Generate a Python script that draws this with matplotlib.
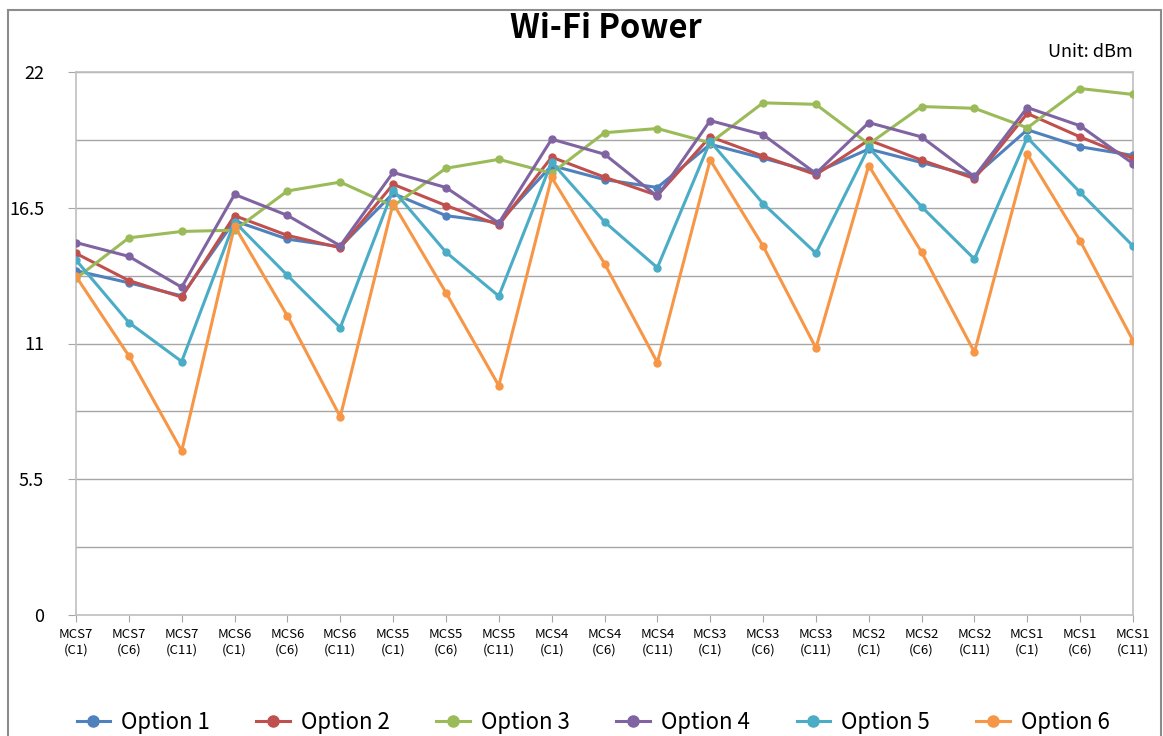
import numpy as np
import matplotlib
matplotlib.use("Agg")
import matplotlib.pyplot as plt
from matplotlib.patches import Rectangle

plt.rcParams['font.family'] = ['Noto Sans CJK KR', 'DejaVu Sans']

categories = ["MCS7\n(C1)", "MCS7\n(C6)", "MCS7\n(C11)",
              "MCS6\n(C1)", "MCS6\n(C6)", "MCS6\n(C11)",
              "MCS5\n(C1)", "MCS5\n(C6)", "MCS5\n(C11)",
              "MCS4\n(C1)", "MCS4\n(C6)", "MCS4\n(C11)",
              "MCS3\n(C1)", "MCS3\n(C6)", "MCS3\n(C11)",
              "MCS2\n(C1)", "MCS2\n(C6)", "MCS2\n(C11)",
              "MCS1\n(C1)", "MCS1\n(C6)", "MCS1\n(C11)"]

option1 = [13.95, 13.46, 12.93, 15.97, 15.23, 14.92, 17.08, 16.18, 15.90,
           18.21, 17.64, 17.32, 19.07, 18.51, 17.93, 18.88, 18.33, 17.78,
           19.66, 18.97, 18.62]
option2 = [14.65, 13.55, 12.88, 16.18, 15.38, 14.88, 17.45, 16.59, 15.80,
           18.55, 17.74, 17.00, 19.38, 18.59, 17.84, 19.24, 18.43, 17.68,
           20.32, 19.37, 18.50]
option3 = [13.64, 15.28, 15.54, 15.59, 17.18, 17.54, 16.57, 18.10, 18.46,
           17.90, 19.54, 19.71, 19.13, 20.75, 20.69, 19.08, 20.60, 20.53,
           19.74, 21.33, 21.09]
option4 = [15.09, 14.53, 13.28, 17.04, 16.19, 14.96, 17.93, 17.32, 15.88,
           19.28, 18.67, 16.96, 20.03, 19.46, 17.89, 19.95, 19.37, 17.76,
           20.56, 19.82, 18.29]
option5 = [14.38, 11.85, 10.27, 15.93, 13.76, 11.64, 17.22, 14.70, 12.92,
           18.35, 15.93, 14.07, 19.19, 16.67, 14.66, 18.95, 16.54, 14.42,
           19.34, 17.12, 14.95]
option6 = [13.72, 10.50, 6.65, 15.76, 12.12, 8.03, 16.68, 13.06, 9.29,
           17.73, 14.24, 10.23, 18.44, 14.95, 10.82, 18.21, 14.70, 10.65,
           18.67, 15.16, 11.12]

series = [("Option 1", option1, "#4F81BD"),
          ("Option 2", option2, "#C0504D"),
          ("Option 3", option3, "#9BBB59"),
          ("Option 4", option4, "#8064A2"),
          ("Option 5", option5, "#4BACC6"),
          ("Option 6", option6, "#F79646")]

yticks = [0, 5.5, 11, 16.5, 22]
grid_vals = [2.75, 5.5, 8.25, 11, 13.75, 16.5, 19.25, 22]

fig = plt.figure(figsize=(11.63, 7.36), dpi=100)
ax = fig.add_axes([76 / 1163, 1 - 615 / 736, (1133 - 76) / 1163, (615 - 72) / 736])

x = np.arange(len(categories))
for name, vals, col in series:
    ax.plot(x, vals, color=col, lw=2.2, marker='o', ms=5, label=name, zorder=3)

for g in grid_vals:
    ax.axhline(g, color='#a6a6a6', lw=1, zorder=1)

ax.set_xlim(0, len(categories) - 1)
ax.set_ylim(0, 22)
ax.set_yticks(yticks)
ax.set_yticklabels(["0", "5.5", "11", "16.5", "22"], fontsize=13)
ax.set_xticks(x)
ax.set_xticklabels(categories, fontsize=9.5, linespacing=1.35)
ax.tick_params(axis='y', length=6, color='#a6a6a6', pad=17)
ax.tick_params(axis='x', length=5, color='#a6a6a6', pad=4)
for s in ax.spines.values():
    s.set_color('#bfbfbf')
    s.set_linewidth(1.2)

fig.text(0.521, 1 - 29 / 736, "Wi-Fi Power", ha='center', va='center',
         fontsize=23.5, fontweight='bold')
fig.text(1133 / 1163, 1 - 52 / 736, "Unit: dBm", ha='right', va='center',
         fontsize=13)

fig.legend(loc='center', bbox_to_anchor=(0.51, 1 - 722 / 736), ncol=6,
           frameon=False, fontsize=16, handlelength=1.5, columnspacing=2.1,
           handletextpad=0.5, markerscale=1.6)

fig.patches.append(Rectangle((8 / 1163, -0.05), (1161 - 8) / 1163, 1.05 - 10 / 736,
                             transform=fig.transFigure, fill=False,
                             edgecolor='#8c8c8c', lw=1.5))

fig.savefig("out.png", dpi=100)
